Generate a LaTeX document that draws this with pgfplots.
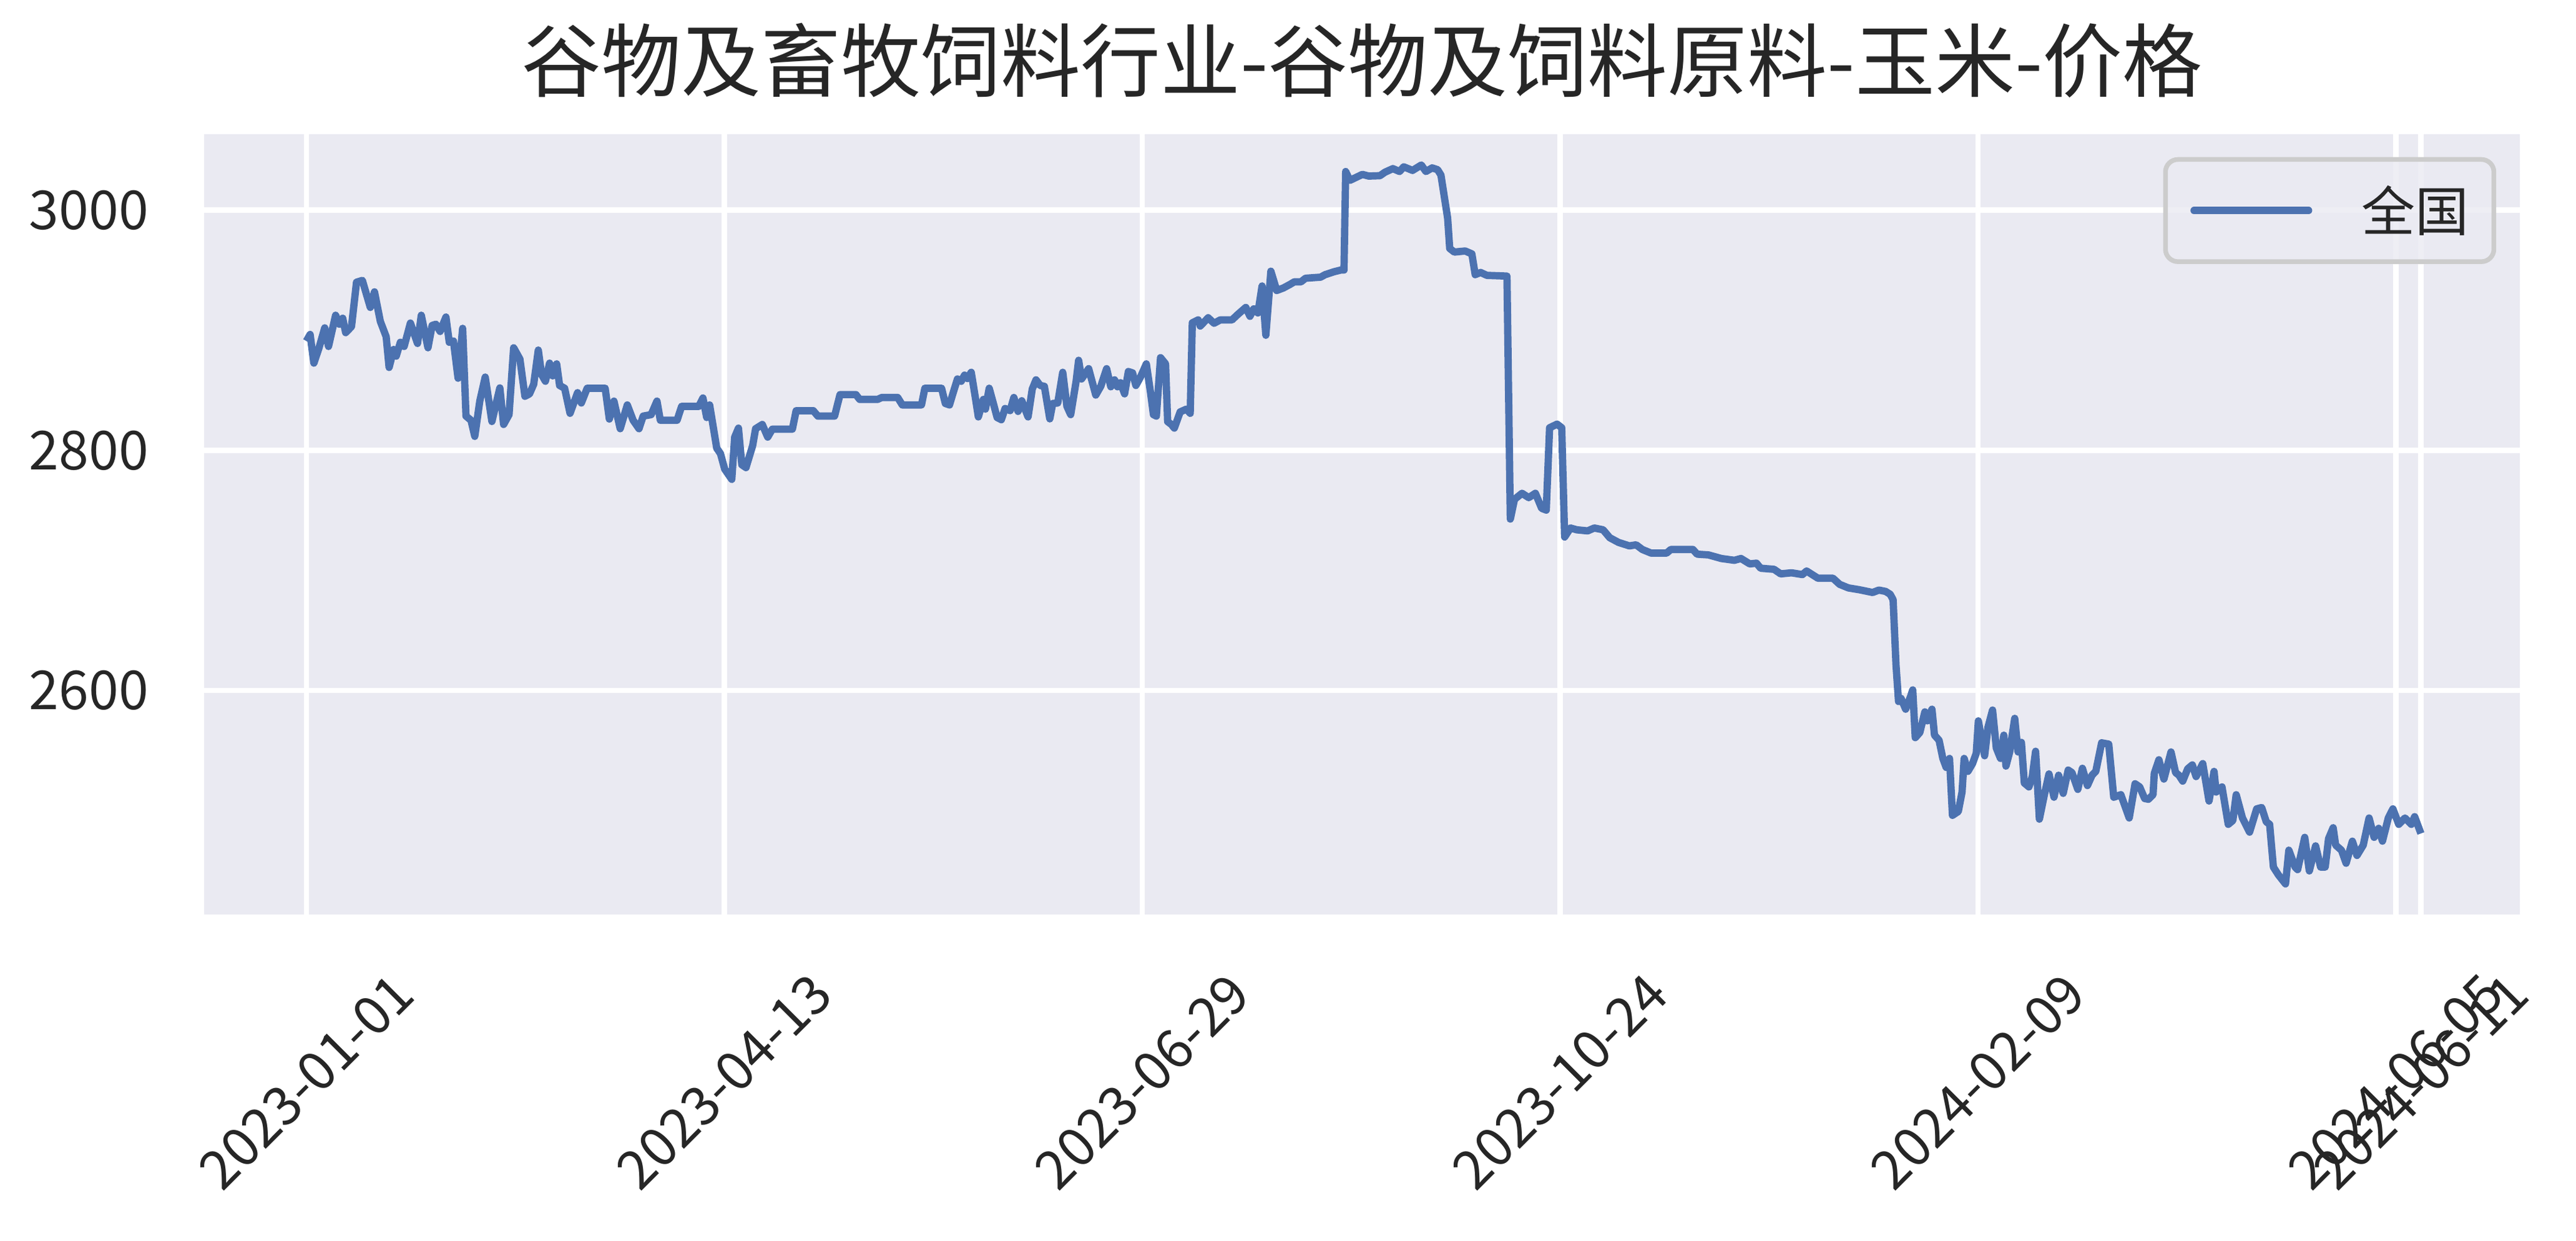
\documentclass[border=0pt]{standalone}
\usepackage{fontspec}
\setmainfont{Noto Sans CJK SC}
\usepackage{pgfplots}
\pgfplotsset{compat=1.18}

\definecolor{bgcolor}{HTML}{EAEAF2}
\definecolor{lineblue}{HTML}{4C72B0}
\definecolor{textgray}{HTML}{262626}
\definecolor{legendgray}{HTML}{CCCCCC}

\begin{document}
\begin{tikzpicture}
\useasboundingbox (-65.36pt,-104.44pt) rectangle (760.04pt,292.96pt);
\begin{axis}[
  at={(0,0)}, anchor=south west,
  scale only axis,
  width=742.08pt, height=250.02pt,
  xmin=-24.5, xmax=529.7,
  ymin=2413.5, ymax=3063.4,
  axis background/.style={fill=bgcolor},
  axis line style={draw=none},
  major tick length=0pt,
  grid=major,
  major grid style={white, line width=1.67pt},
  xtick={0,100,200,300,400,500,506},
  xticklabels={2023-01-01,2023-04-13,2023-06-29,2023-10-24,2024-02-09,2024-06-05,2024-06-11},
  ytick={2600,2800,3000},
  yticklabels={2600,2800,3000},
  tick label style={text=textgray, font=\fontsize{17.2}{20}\selectfont},
  xticklabel style={yshift=-53.6pt, rotate=45, anchor=center, inner sep=0pt},
  yticklabel style={anchor=east, inner sep=0pt, xshift=-17.6pt},
  title={谷物及畜牧饲料行业-谷物及饲料原料-玉米-价格},
  title style={at={(0.5,1)}, anchor=center, yshift=17.6pt, text=textgray,
    font=\fontsize{25.6}{30}\selectfont},
  legend style={at={(1,1)}, anchor=north east, xshift=-7.6pt, yshift=-7.4pt,
    draw=legendgray, line width=1.5pt, rounded corners=4pt,
    fill=bgcolor, fill opacity=0.8, text opacity=1,
    inner xsep=8pt, inner ysep=8.3pt, column sep=15.8pt,
    nodes={inner sep=0pt, text=textgray, font=\fontsize{17.2}{20}\selectfont}},
  legend image code/.code={\draw[#1, line cap=round] (0pt,0pt) -- (36.7pt,0pt);},
]

% 全国 price series, x = row index (100 rows between labelled ticks)
\addplot[lineblue, line width=2.34pt, line join=round] coordinates {
  (0,2891) (0.9,2896.5) (1.8,2872.6) (3.0,2885) (4.4,2902) (5.3,2886.5)
  (7.0,2912.5) (7.9,2905) (8.7,2910) (9.4,2898) (10.8,2903) (12.0,2940)
  (13.4,2941.5) (15.3,2919) (16.3,2932) (17.7,2907.4) (19.1,2894.6) (19.8,2869)
  (20.9,2884) (21.5,2878.4) (22.5,2890) (23.4,2886.5) (24.9,2906) (26.6,2889)
  (27.5,2912.5) (29.1,2885.4) (30.1,2904) (31.0,2905) (32.0,2899) (33.4,2911)
  (34.2,2890) (35.2,2891) (36.3,2860) (37.4,2901.6) (38.2,2828.5) (39.4,2825)
  (40.3,2811.6) (41.5,2841) (42.8,2861) (44.4,2824) (46.3,2852) (47.2,2821.5)
  (48.5,2829.7) (49.6,2885.4) (51.1,2876) (52.3,2845) (53.4,2847) (54.4,2855)
  (55.5,2883.5) (56.3,2863) (57.2,2857.5) (58.2,2872.6) (58.95,2862) (59.9,2872)
  (60.6,2854) (61.8,2851.7) (63.1,2830.8) (64.9,2848) (65.8,2839.4) (67.2,2851.7)
  (71.5,2851.7) (72.5,2826) (73.6,2841) (75.1,2818) (76.8,2837.8) (78.2,2825)
  (79.6,2818) (80.6,2828.5) (82.5,2829.7) (83.9,2841) (84.7,2825) (88.7,2825)
  (89.8,2836.6) (93.9,2836.6) (94.9,2843.6) (95.8,2827.3) (96.5,2837.8) (98.2,2801.8)
  (99.1,2797.2) (100.1,2784.4) (101.8,2775.8) (102.5,2811) (103.4,2818.5) (104.2,2788)
  (105.2,2785.6) (106.8,2804) (107.5,2818) (109.1,2821.5) (110.4,2811) (111.5,2817.6)
  (116.3,2817.6) (117.2,2833) (121.3,2833)
  (122.4,2828.5) (126.4,2828.5) (127.7,2846.4) (131.5,2846.4) (132.4,2842.4) (136.7,2842.4)
  (137.7,2844) (141.5,2844) (142.6,2837.8) (147.2,2837.8) (148.0,2851.7) (152.0,2851.7)
  (152.9,2839) (153.9,2837.8) (154.8,2848.2) (155.8,2859.4) (156.7,2857.5) (157.5,2862.6)
  (158.2,2859.8) (159.1,2865) (160.1,2843.6) (160.8,2827.8) (162.0,2842.4) (162.5,2834.3)
  (163.4,2851.7) (164.4,2839) (165.3,2827.3) (166.3,2825.5) (167.2,2834.8) (168.4,2833.1)
  (169.3,2844) (170.3,2832.4) (171.2,2841.3) (172.7,2827.8) (173.7,2851) (174.6,2858.7)
  (175.6,2854) (176.6,2853.3) (177.9,2826.2) (178.6,2839) (179.8,2839.4) (181.0,2865)
  (182.0,2836.6) (182.9,2829.7) (184.2,2857.5) (184.8,2875) (185.5,2859.4) (187.2,2868)
  (188.9,2846) (190.1,2853.3) (191.5,2868) (192.5,2852.9) (193.4,2858.7) (194.1,2852.9)
  (194.8,2856.3) (195.8,2847) (196.7,2865.6) (197.7,2864.5) (198.5,2854) (199.6,2861)
  (201.0,2872) (202.0,2848.2) (202.7,2829.7) (203.4,2828.5) (204.4,2877.2) (205.6,2872)
  (206.1,2823.9) (207.0,2821.5) (207.7,2818.5) (209.1,2832) (210.6,2834.3) (211.5,2830.8)
  (212.0,2906.2) (213.4,2908.6) (213.9,2903.5) (215.8,2910.4) (217.2,2905.8) (218.7,2908.6)
  (221.5,2908.6) (222.9,2913.2) (224.8,2919) (225.8,2911.6) (226.7,2917.8) (227.7,2914.4)
  (228.7,2936.9) (229.6,2895.8) (230.8,2949.2)
  (232.2,2933.1) (233.8,2935.2) (235.4,2938.2) (236.4,2940.3) (238.0,2940.3) (239.1,2943.3)
  (242.7,2944.2) (243.8,2946.3) (245.9,2948.7) (247.6,2950.2) (248.3,2950.2) (248.7,3032.2)
  (249.7,3024.8) (252.7,3029.8) (254.2,3028.4) (256.9,3028.7) (258.1,3031.6) (260.0,3034.6)
  (261.6,3032.2) (262.6,3036.1) (264.7,3033.1) (266.8,3037.6) (267.9,3032.2) (269.4,3035.2)
  (270.7,3033.7) (271.5,3029.2) (273.1,2993.4) (273.6,2968.1) (274.7,2965.1) (277.3,2966)
  (278.9,2963.6) (279.7,2946.3) (281.0,2948.1) (282.5,2945.7) (287.3,2945.1) (288.1,2742.7)
  (289.1,2759.2) (290.9,2764.2) (292.5,2760.6) (294.1,2764.2) (295.6,2751.7) (296.7,2750.2)
  (297.5,2818.8) (299.3,2821.8) (300.4,2818.8) (301.1,2727.8) (302.5,2735.3) (304.0,2733.8)
  (306.6,2732.9) (308.2,2735.3) (310.3,2733.8) (311.9,2727.2) (314.0,2723.3) (316.6,2720.4)
  (318.2,2721.3) (319.7,2717.4) (321.8,2714.4) (325.5,2714.4) (326.5,2717.4) (331.8,2717.4)
  (332.8,2713.5) (335.5,2712.9) (338.6,2709.9) (341.7,2708.4) (343.3,2709.9) (345.4,2705.4)
  (347.0,2706) (348.0,2701.8) (351.2,2700.9) (352.8,2697.1) (355.4,2698) (358.0,2696.5)
  (359.0,2699.5) (361.7,2693.5) (365.3,2693.5) (366.9,2688.4) (369.0,2685.4) (371.6,2683.9)
  (374.8,2681.6) (376.3,2683.6) (377.9,2682.5) (379.0,2680.1) (379.7,2675.6)
  (380.4,2621) (381.0,2590.8) (381.6,2593.4) (382.7,2584.4) (383.9,2595.2) (384.4,2600.5)
  (385.0,2560.7) (386.1,2565) (387.3,2582.2) (387.9,2574.7) (389.0,2584.4) (389.6,2562.8)
  (390.7,2558.5) (391.6,2543.4) (392.4,2535.9) (393.2,2543.4) (393.9,2496) (395.3,2499.2)
  (396.2,2515.4) (396.7,2543.4) (397.6,2532.6) (398.7,2539.1) (399.6,2547.7) (400.1,2574.7)
  (401.6,2545.6) (402.4,2569.3) (403.5,2583.7) (404.4,2552) (405.4,2543.4) (406.2,2562.8)
  (406.7,2537) (407.6,2548.8) (408.8,2576.8) (409.6,2548.8) (410.4,2556.8) (411.1,2522.9)
  (412.2,2519.7) (413.0,2528.3) (413.8,2549.4) (414.7,2492.8) (415.9,2513.2) (417.0,2530.5)
  (418.2,2511.1) (419.3,2529.4) (420.4,2514.3) (421.6,2533.7) (422.5,2531.6) (423.9,2517.6)
  (425.0,2535.2) (426.2,2520.8) (427.3,2529.4) (428.2,2532.6) (429.6,2556.4) (431.3,2555.3)
  (432.5,2511.1) (434.2,2513.2) (436.2,2493.8) (437.6,2522.3) (438.7,2519.7) (439.9,2510)
  (440.8,2509.4) (441.9,2513.2) (442.2,2530.9) (443.3,2542.3) (444.5,2526.2) (446.2,2548.8)
  (447.3,2531.6) (448.1,2529.4) (449.0,2524.5) (450.2,2534.8) (451.3,2538) (452.2,2528.3)
  (453.8,2539.1) (455.3,2507.9) (456.5,2532.6) (457.0,2515.4) (458.4,2519.7) (459.9,2488.5)
  (461.0,2491.7) (461.8,2513.2) (463.3,2493.8) (465.0,2482) (466.7,2501.4) (467.9,2502.5)
  (469.0,2490.6) (469.8,2488.5) (470.7,2452.9) (471.9,2446.4) (473.6,2438.9) (474.4,2467)
  (475.9,2452.9) (476.5,2450.8) (478.2,2477.7) (479.3,2449.7) (480.8,2470.6) (482.0,2452.9)
  (483.1,2452.9) (483.9,2476.6) (485.0,2485.7) (485.6,2471.2) (487.0,2466.9) (488.1,2456.1)
  (489.6,2474.5) (490.7,2462.6) (492.2,2471.2) (493.6,2493.8) (494.8,2477.7) (495.9,2485.2)
  (496.8,2474.5) (498.2,2493.8) (499.3,2501.4) (500.7,2488.5) (502.2,2493.8) (503.7,2488.5)
  (504.5,2494.9) (506,2480.9)
};
\addlegendentry{全国}
\end{axis}
\end{tikzpicture}
\end{document}
